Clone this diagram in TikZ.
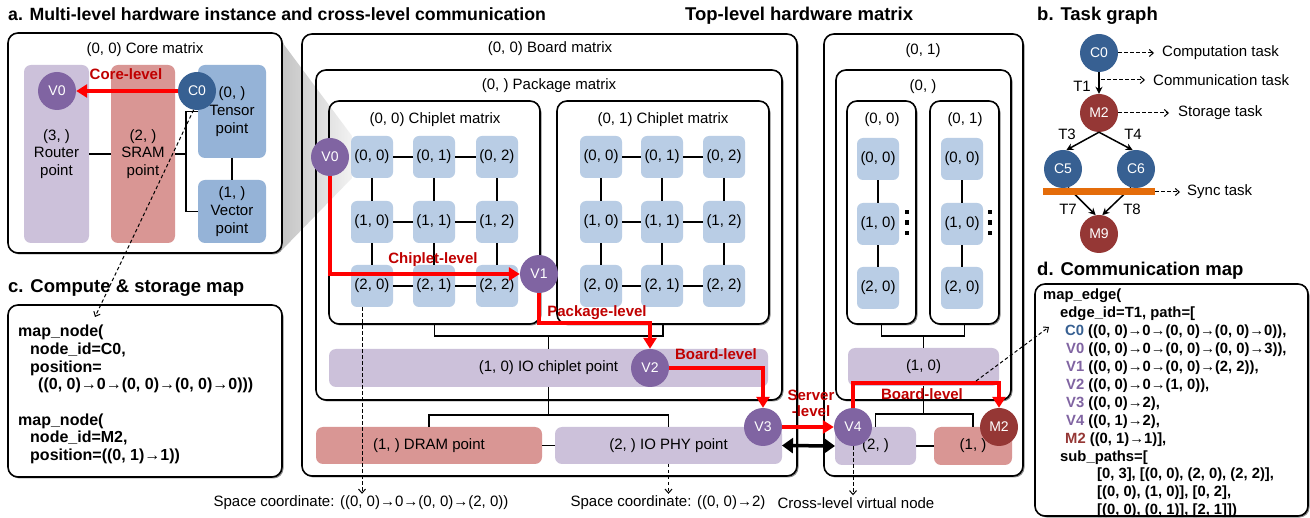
\documentclass[tikz,border=0pt]{standalone}
\usepackage{fontspec}
\setmainfont{Liberation Sans}
\usetikzlibrary{arrows.meta,shadows,calc}
\pgfdeclarelayer{bg}
\pgfdeclarelayer{shade}
\pgfsetlayers{bg,shade,main}

\definecolor{vpurple}{HTML}{8064A2}
\definecolor{cblue}{HTML}{376092}
\definecolor{mred}{HTML}{953735}
\definecolor{lpurple}{HTML}{CCC1DA}
\definecolor{lred}{HTML}{D99694}
\definecolor{tblue}{HTML}{95B3D7}
\definecolor{cellblue}{HTML}{B9CDE5}
\definecolor{lvred}{HTML}{C00000}
\definecolor{orangebar}{HTML}{E46C0A}

\begin{document}
\begin{tikzpicture}[x=1pt,y=-1pt,font=\fontsize{15}{17.7}\selectfont,
  frame/.style={draw=black,line width=1.6pt,rounded corners=10pt,inner sep=0pt,outer sep=0pt,anchor=north west},
  blk/.style={rounded corners=7pt,inner sep=0pt,outer sep=0pt,anchor=north west,align=center},
  cell/.style={fill=cellblue,rounded corners=6pt,minimum width=42pt,minimum height=42pt,inner sep=0pt},
  vnode/.style={circle,fill=vpurple,text=white,minimum size=38pt,inner sep=0pt,font=\fontsize{14}{14}\selectfont},
  cnode/.style={vnode,fill=cblue},
  mnode/.style={vnode,fill=mred},
  wire/.style={line width=1.6pt},
  redarrow/.style={draw=red,line width=3.8pt,-{Triangle[length=11pt,width=13pt]}},
  lvl/.style={text=lvred,font=\bfseries\fontsize{15}{16}\selectfont,align=center,inner sep=0pt},
  dasharr/.style={line width=1pt,dash pattern=on 3.5pt off 2.5pt,-{Straight Barb[length=4pt,width=7pt]}},
  tarrow/.style={line width=1.5pt,-{Stealth[length=7pt,width=7pt]}},
  title/.style={font=\bfseries\fontsize{18.5}{20}\selectfont,inner sep=0pt,anchor=base west},
  code/.style={font=\bfseries\fontsize{16}{17.7}\selectfont,align=left,inner sep=0pt,anchor=north west},
  tlabel/.style={inner sep=0pt,anchor=west}]
\useasboundingbox (0,0) rectangle (1310,518);

% ---------- titles ----------
\node[title,font=\bfseries\fontsize{17.7}{20}\selectfont] (ta) at (8,20.5) {a. Multi-level hardware instance and cross-level communication};
\node[title] (ttop) at (685,20.5) {Top-level hardware matrix};
\node[title] (tb) at (1037,20.5) {b. Task graph};
\node[title] (tc) at (8,293) {c. Compute \& storage map};
\node[title] (td) at (1037,276) {d. Communication map};

% ---------- frames ----------
\node[frame,minimum width=274pt,minimum height=220pt] (core) at (8,33) {};
\node[frame,minimum width=495pt,minimum height=442pt] (board) at (302,34) {};
\node[frame,minimum width=466pt,minimum height=330pt] (pkg) at (316,70) {};
\node[frame,minimum width=211pt,minimum height=223pt] (chip00) at (329,101) {};
\node[frame,minimum width=212pt,minimum height=223pt] (chip01) at (557,101) {};
\node[frame,minimum width=199pt,minimum height=442pt] (right) at (824,34) {};
\node[frame,minimum width=175pt,minimum height=330pt] (rpkg) at (836,70) {};
\node[frame,minimum width=69pt,minimum height=223pt] (rc0) at (847,101) {};
\node[frame,minimum width=69pt,minimum height=223pt] (rc1) at (930,101) {};
\node[frame,minimum width=274pt,minimum height=172pt] (cmap) at (8,305) {};
\node[frame,minimum width=273pt,minimum height=232pt] (dmap) at (1035,284) {};

% white fills with shadows behind the frames
\begin{pgfonlayer}{bg}
  \foreach \b in {core,board,pkg,chip00,chip01,right,rpkg,rc0,rc1,cmap,dmap}
    \fill[white,rounded corners=10pt,drop shadow={shadow xshift=1.5pt,shadow yshift=-1.5pt,opacity=.45,fill=black}]
      (\b.north west) rectangle (\b.south east);
\end{pgfonlayer}

% zoom cone from the core matrix to chiplet cell (0, 0)
\begin{pgfonlayer}{shade}
  \shade[left color=black!23,right color=black!5] (282,42) -- (352,136) -- (352,178) -- (282,250) -- cycle;
\end{pgfonlayer}

% ---------- frame captions ----------
\node (lcore) at (145,50) {(0, 0) Core matrix};
\node (lboard) at (550,49) {(0, 0) Board matrix};
\node (lpkg) at (549,86) {(0, ) Package matrix};
\node (lchip0) at (435,120) {(0, 0) Chiplet matrix};
\node (lchip1) at (663,120) {(0, 1) Chiplet matrix};
\node (lright) at (923,51) {(0, 1)};
\node (lrpkg) at (923,87) {(0, )};
\node (lrc0) at (882,120) {(0, 0)};
\node (lrc1) at (965,120) {(0, 1)};

% ---------- core matrix ----------
\node[blk,fill=lpurple,minimum width=65pt,minimum height=178pt] (router) at (24,65) {(3, )\\Router\\point};
\node[blk,fill=lred,minimum width=64pt,minimum height=178pt] (sram) at (111,65) {(2, )\\SRAM\\point};
\node[blk,fill=tblue,minimum width=68pt,minimum height=93pt] (tensor) at (198,65) {(0, )\\Tensor\\point};
\node[blk,fill=tblue,minimum width=68pt,minimum height=63pt] (vector) at (198,180) {(1, )\\Vector\\point};
\draw[wire] (router.east) -- (sram.west);
\draw[wire] (sram.east) -- ++(11,0) coordinate (sj);
\draw[wire] (tensor.west) -| (sj) |- (vector.west);
\draw[wire] (tensor.south) -- (vector.north);
\node[vnode] (cV0) at (57,91) {V0};
\node[cnode] (C0) at (197,91) {C0};
\draw[redarrow] (C0) -- (cV0);
\node[lvl] (lvcore) at (126,74) {Core-level};

% ---------- chiplet matrices ----------
\foreach \x/\c in {372/0,434/1,497/2}
  \foreach \y/\r in {157/0,222/1,286/2}
    \node[cell] (p\r\c) at (\x,\y) {(\r, \c)};
\foreach \x/\c in {601/0,662/1,724/2}
  \foreach \y/\r in {157/0,222/1,286/2}
    \node[cell] (q\r\c) at (\x,\y) {(\r, \c)};
\foreach \r in {0,1,2} {
  \draw[wire] (p\r0) -- (p\r1) -- (p\r2);
  \draw[wire] (q\r0) -- (q\r1) -- (q\r2);
}
\foreach \c in {0,1,2} {
  \draw[wire] (p0\c) -- (p1\c) -- (p2\c);
  \draw[wire] (q0\c) -- (q1\c) -- (q2\c);
}

% IO chiplet, DRAM and IO PHY of board (0, 0)
\node[blk,fill=lpurple,minimum width=439pt,minimum height=38pt] (ioc) at (329,349) {(1, 0) IO chiplet point};
\node[blk,fill=lred,minimum width=226pt,minimum height=37pt] (dram) at (316,427) {(1, ) DRAM point};
\node[blk,fill=lpurple,minimum width=227pt,minimum height=37pt] (phy) at (555,427) {(2, ) IO PHY point};
\draw[wire] (chip00.south) -- ++(0,12) -| (chip01.south);
\draw[wire] (ioc.north) -- ++(0,-13);
\draw[wire] (ioc.south) -- ++(0,28);
\draw[wire] (dram.north) -- ++(0,-12) -| (phy.north);
\draw[wire] (dram.east) -- (phy.west);

% ---------- board (0, 1) ----------
\foreach \y/\r in {159/0,224/1,288/2} {
  \node[cell] (r\r) at (878,\y) {(\r, 0)};
  \node[cell] (s\r) at (962,\y) {(\r, 0)};
}
\draw[wire] (r0) -- (r1) -- (r2);
\draw[wire] (s0) -- (s1) -- (s2);
\foreach \y in {212,222.5,233} {
  \fill (904.8,\y-2.3) rectangle ++(4.6,4.6);
  \fill (987.8,\y-2.3) rectangle ++(4.6,4.6);
}
\node[blk,fill=lpurple,minimum width=151pt,minimum height=38pt] (rio) at (848,348) {(1, 0)};
\node[blk,fill=lpurple,minimum width=81pt,minimum height=38pt] (b2) at (835,427) {(2, )};
\node[blk,fill=lred,minimum width=78pt,minimum height=38pt] (b1) at (934,427) {(1, )};
\draw[wire] (rc0.south) -- ++(0,12) -| (rc1.south);
\draw[wire] (rio.north) -- ++(0,-12);
\draw[wire] (rio.south) -- ++(0,28);
\draw[wire] (b2.north) -- ++(0,-13) -| (b1.north);
\draw[wire] (b2.east) -- (b1.west);

% ---------- cross-level virtual nodes and route ----------
\node[vnode] (V0) at (330,157) {V0};
\node[vnode] (V1) at (539,274) {V1};
\node[vnode] (V2) at (650,368) {V2};
\node[vnode] (V3) at (763,427) {V3};
\node[vnode] (V4) at (853,427) {V4};
\node[mnode] (M2) at (999,427) {M2};

\draw[redarrow] (V0.south) |- (V1.west);
\draw[redarrow] (V1.south) |- ($(V2.north)+(0,-26)$) -- (V2.north);
\draw[redarrow] (V2.east) -| (V3.north);
\draw[redarrow] (V3.east) -- (V4.west);
\draw[redarrow] (V4.north) |- ($(M2.north)+(0,-25)$) -- (M2.north);
\draw[line width=3.5pt,{Triangle[length=11pt,width=15pt]}-{Triangle[length=11pt,width=15pt]}] (phy.east) -- (b2.west);

\node[lvl] (lvchip) at (433,260) {Chiplet-level};
\node[lvl] (lvpkg) at (597,313) {Package-level};
\node[lvl] (lvboard) at (716,354) {Board-level};
\node[lvl] (lvserver) at (811,403) {Server\\-level};
\node[lvl] (lvboard2) at (922,394) {Board-level};

% ---------- coordinate notes ----------
\node[inner sep=2pt] (sc1) at (361,503) {Space coordinate: ((0, 0)→0→(0, 0)→(2, 0))};
\node[inner sep=2pt] (sc2) at (668,503) {Space coordinate: ((0, 0)→2)};
\node[inner sep=2pt] (sc3) at (856,503) {Cross-level virtual node};
\coordinate (d1) at ($(p20.south)+(-10,0)$);
\draw[dasharr] (d1) -- (d1 |- sc1.north);
\draw[dasharr] (phy.south) -- (phy.south |- sc2.north);
\draw[dasharr] (V4.south) -- (V4.south |- sc3.north);

% ---------- c. compute & storage map ----------
\node[code] (ctext) at (18,325) {map\_node(\\
\hspace*{12pt}node\_id=C0,\\
\hspace*{12pt}position=\\
\hspace*{20pt}((0, 0)→0→(0, 0)→(0, 0)→0)))\\[17.7pt]
map\_node(\\
\hspace*{12pt}node\_id=M2,\\
\hspace*{12pt}position=((0, 1)→1))};
\coordinate (cin) at (95,317);
\draw[dasharr] (C0.-100) -- (cin);

% ---------- d. communication map ----------
\node[code,font=\bfseries\fontsize{14.8}{17.9}\selectfont] (dtext) at (1043,289) {map\_edge(\\
\hspace*{17pt}edge\_id=T1, path=[\\
\hspace*{22pt}{\color{cblue}C0} ((0, 0)→0→(0, 0)→(0, 0)→0)),\\
\hspace*{23pt}{\color{vpurple}V0} ((0, 0)→0→(0, 0)→(0, 0)→3)),\\
\hspace*{23pt}{\color{vpurple}V1} ((0, 0)→0→(0, 0)→(2, 2)),\\
\hspace*{23pt}{\color{vpurple}V2} ((0, 0)→0→(1, 0)),\\
\hspace*{23pt}{\color{vpurple}V3} ((0, 0)→2),\\
\hspace*{23pt}{\color{vpurple}V4} ((0, 1)→2),\\
\hspace*{22pt}{\color{mred}M2} ((0, 1)→1)],\\
\hspace*{17pt}sub\_paths=[\\
\hspace*{54pt}[0, 3], [(0, 0), (2, 0), (2, 2)],\\
\hspace*{54pt}[(0, 0), (1, 0)], [0, 2],\\
\hspace*{54pt}[(0, 0), (0, 1)], [2, 1]])};
\coordinate (dfrom) at (976,381);
\coordinate (dto) at (1049,327);
\draw[dasharr] (dfrom) -- (dto);

% ---------- b. task graph ----------
\node[cnode] (tC0) at (1099,53) {C0};
\node[mnode] (tM2) at (1099,113) {M2};
\node[cnode] (tC5) at (1063,169) {C5};
\node[cnode] (tC6) at (1136,169) {C6};
\node[mnode] (tM9) at (1099,234) {M9};
\draw[tarrow] (tC0) -- (tM2);
\draw[tarrow] (tM2.south) -- (tC5.80);
\draw[tarrow] (tM2.south) -- (tC6.100);
\draw[tarrow] (tC5.-75) -- (tM9.100);
\draw[tarrow] (tC6.-105) -- (tM9.80);
\node[fill=orangebar,minimum width=112pt,minimum height=7pt,inner sep=0pt] (sync) at (1099,192) {};
\node (T1) at (1082,86) {T1};
\node (T3) at (1067,134) {T3};
\node (T4) at (1133,134) {T4};
\node (T7) at (1068,209) {T7};
\node (T8) at (1132,209) {T8};
\node[tlabel] (compt) at (1162,53) {Computation task};
\node[tlabel] (commt) at (1153,80) {Communication task};
\node[tlabel] (stort) at (1178,113) {Storage task};
\node[tlabel] (synct) at (1187,192) {Sync task};
\coordinate (t1mid) at (1101,80);
\draw[dasharr] (tC0.east) -- ($(compt.west)+(-8,0)$);
\draw[dasharr] (t1mid) -- ($(commt.west)+(-8,0)$);
\draw[dasharr] (tM2.east) -- ($(stort.west)+(-9,0)$);
\draw[dasharr] (sync.east) -- ($(synct.west)+(-7,0)$);
\end{tikzpicture}
\end{document}
